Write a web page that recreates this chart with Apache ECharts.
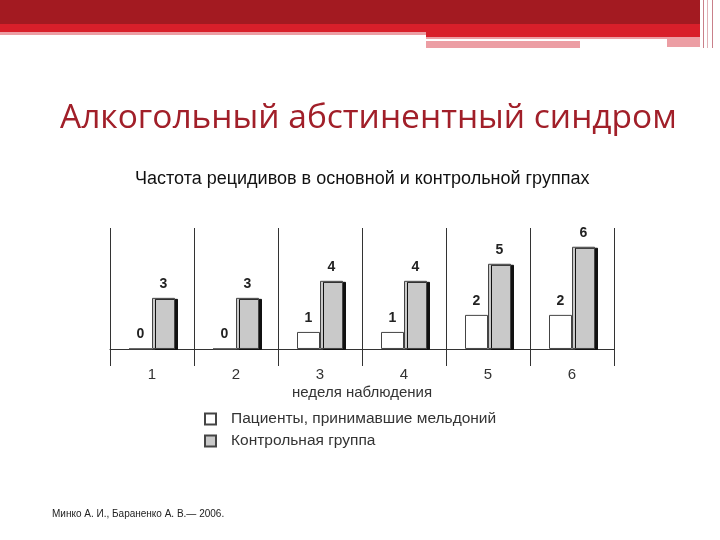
<!DOCTYPE html>
<html>
<head>
<meta charset="utf-8">
<script src="https://cdn.jsdelivr.net/npm/echarts@6/dist/echarts.min.js"></script>
<style>
  html, body { margin: 0; padding: 0; background: #fff; }
  #chart { width: 720px; height: 540px; }
</style>
</head>
<body>
<div id="chart"></div>
<script>
  // weeks of observation
  var weeks = ['1', '2', '3', '4', '5', '6'];
  // relapses: patients on meldonium / control group
  var meldonium = [0, 0, 1, 1, 2, 2];
  var control = [3, 3, 4, 4, 5, 6];
  var seriesNames = ['Пациенты, принимавшие мельдоний', 'Контрольная группа'];

  var chart = echarts.init(document.getElementById('chart'));

  var labelStyle = {
    show: true,
    position: 'top',
    distance: 7,
    fontFamily: 'Liberation Sans',
    fontWeight: 'bold',
    fontSize: 14,
    color: '#222'
  };

  chart.setOption({
    animation: false,
    title: [
      {
        text: 'Алкогольный абстинентный синдром',
        left: 55, top: 96,
        textStyle: { fontFamily: 'Open Sans', fontWeight: 'normal', fontSize: 33.5, color: '#a11f29' }
      },
      {
        text: 'Частота рецидивов в основной и контрольной группах',
        left: 130, top: 165,
        textStyle: { fontFamily: 'Liberation Sans', fontWeight: 'normal', fontSize: 18, color: '#111' }
      },
      {
        text: 'Минко А. И., Бараненко А. В.— 2006.',
        left: 47, top: 504,
        textStyle: { fontFamily: 'Liberation Sans', fontWeight: 'normal', fontSize: 10, color: '#222' }
      }
    ],
    graphic: [
      { type: 'rect', shape: { x: 0, y: 0, width: 700, height: 24 }, style: { fill: '#a31a21' } },
      { type: 'rect', shape: { x: 0, y: 24, width: 700, height: 8 }, style: { fill: '#d81f2a' } },
      { type: 'rect', shape: { x: 0, y: 32, width: 426, height: 3 }, style: { fill: '#ec9ea4' } },
      { type: 'rect', shape: { x: 426, y: 32, width: 274, height: 5 }, style: { fill: '#d81f2a' } },
      { type: 'rect', shape: { x: 426, y: 37, width: 274, height: 2 }, style: { fill: '#ec9ea4' } },
      { type: 'rect', shape: { x: 667, y: 39, width: 33, height: 8 }, style: { fill: '#ec9ea4' } },
      { type: 'rect', shape: { x: 426, y: 41, width: 154, height: 7 }, style: { fill: '#ec9ea4' } },
      { type: 'rect', shape: { x: 703, y: 0, width: 1, height: 48 }, style: { fill: '#c9808a' } },
      { type: 'rect', shape: { x: 707, y: 0, width: 1, height: 48 }, style: { fill: '#e0b0b6' } },
      { type: 'rect', shape: { x: 712, y: 0, width: 1, height: 48 }, style: { fill: '#c9808a' } }
    ],
    legend: {
      orient: 'vertical',
      left: 199, top: 406,
      itemWidth: 11, itemHeight: 11,
      itemGap: 6,
      icon: 'rect',
      data: seriesNames,
      itemStyle: { shadowBlur: 0, shadowOffsetX: 0, shadowOffsetY: 0, shadowColor: 'transparent' },
      textStyle: { fontFamily: 'Liberation Sans', fontSize: 15.5, color: '#333', padding: [0, 0, 0, 10] }
    },
    grid: { left: 110, right: 106, top: 228, bottom: 174 },
    xAxis: {
      type: 'category',
      data: weeks,
      axisLine: { onZero: true, lineStyle: { color: '#333', width: 1 } },
      axisTick: { show: false },
      splitLine: { show: true, interval: 0, lineStyle: { color: '#333', width: 1 } },
      axisLabel: { margin: 1, fontFamily: 'Liberation Sans', fontSize: 15, color: '#333' },
      name: 'неделя наблюдения',
      nameLocation: 'middle',
      nameGap: 19,
      nameTextStyle: { fontFamily: 'Liberation Sans', fontSize: 15, color: '#333' }
    },
    yAxis: {
      type: 'value',
      min: -1, max: 7.1,
      show: false,
      splitLine: { show: false }
    },
    series: [
      {
        name: seriesNames[0],
        type: 'bar',
        data: meldonium,
        barWidth: 23,
        barGap: '0%',
        itemStyle: { color: '#fff', borderColor: '#444', borderWidth: 1 },
        label: labelStyle
      },
      {
        name: seriesNames[1],
        type: 'bar',
        data: control,
        barWidth: 23,
        itemStyle: {
          color: '#c9c9c9', borderColor: '#444', borderWidth: 1,
          shadowColor: '#111', shadowBlur: 0, shadowOffsetX: 3, shadowOffsetY: 1
        },
        label: labelStyle
      }
    ]
  });
</script>
</body>
</html>
